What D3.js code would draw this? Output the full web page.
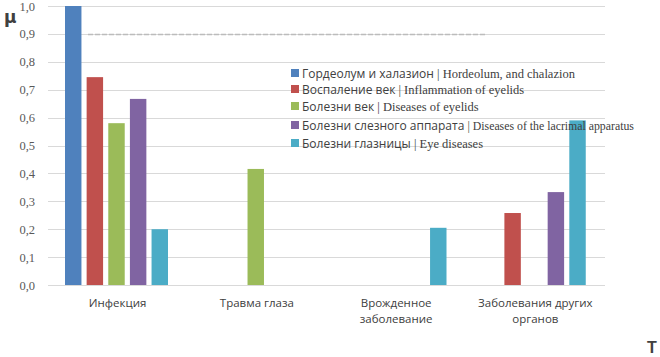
<!DOCTYPE html>
<html>
<head>
<meta charset="utf-8">
<script src="https://cdn.jsdelivr.net/npm/d3@7"></script>
<style>
  html, body { margin: 0; padding: 0; background: #fff; }
  svg { display: block; }
</style>
</head>
<body>
<div id="chart"></div>
<script>
// categories (x axis), split into lines
const categories = ["Инфекция", "Травма глаза", "Врожденное заболевание", "Заболевания других органов"];
const categoryLines = [["Инфекция"], ["Травма глаза"], ["Врожденное", "заболевание"], ["Заболевания других", "органов"]];

// series names: russian part + english part
const seriesRu = ["Гордеолум и халазион", "Воспаление век", "Болезни век", "Болезни слезного аппарата", "Болезни глазницы"];
const seriesEn = ["Hordeolum, and chalazion", "Inflammation of eyelids", "Diseases of eyelids", "Diseases of the lacrimal apparatus", "Eye diseases"];
const seriesColors = ["#4F81BD", "#C0504D", "#9BBB59", "#8064A2", "#4BACC6"];

// values per series, one per category (0 = no bar)
const hordeolum = [1.0, 0, 0, 0];
const inflammation = [0.745, 0, 0, 0.258];
const eyelids = [0.58, 0.416, 0, 0];
const lacrimal = [0.667, 0, 0, 0.333];
const orbit = [0.2, 0, 0.205, 0.59];
const seriesValues = [hordeolum, inflammation, eyelids, lacrimal, orbit];

const yTicks = [0, 0.1, 0.2, 0.3, 0.4, 0.5, 0.6, 0.7, 0.8, 0.9, 1.0];

const width = 660, height = 357;
const svg = d3.select("#chart").append("svg")
  .attr("width", width).attr("height", height);

// scales
const x0 = d3.scaleBand().domain(categories).range([48, 605]).padding(0);
const x1 = d3.scaleBand().domain(d3.range(seriesRu.length)).range([17, 120]).paddingInner(0.24).paddingOuter(0);
const y = d3.scaleLinear().domain([0, 1]).range([285, 6]);

// gridlines
svg.append("g")
  .selectAll("line")
  .data(yTicks)
  .join("line")
  .attr("x1", 48).attr("x2", 605)
  .attr("y1", d => Math.round(y(d)) + 0.5).attr("y2", d => Math.round(y(d)) + 0.5)
  .attr("stroke", "#d9d9d9").attr("stroke-width", 1);

// faint dashed artefact over the 0.9 gridline
svg.append("line")
  .attr("x1", 88).attr("x2", 487)
  .attr("y1", Math.round(y(0.9)) + 0.5).attr("y2", Math.round(y(0.9)) + 0.5)
  .attr("stroke", "#bcbcbc").attr("stroke-width", 1.3)
  .attr("stroke-dasharray", "5,2");

// y tick labels
svg.append("g")
  .selectAll("text")
  .data(yTicks)
  .join("text")
  .attr("x", 35)
  .attr("y", d => Math.max(y(d) + 4.5, 11))
  .attr("text-anchor", "end")
  .attr("font-family", "'Liberation Serif', serif")
  .attr("font-size", 12.5)
  .attr("fill", "#595959")
  .text(d => d3.format(".1f")(d).replace(".", ","));

// bars
const groups = svg.append("g")
  .selectAll("g")
  .data(seriesValues)
  .join("g")
  .attr("fill", (d, i) => seriesColors[i]);

groups.selectAll("rect")
  .data((vals, si) => vals.map((v, ci) => ({ v, ci, si })).filter(d => d.v > 0))
  .join("rect")
  .attr("x", d => x0(categories[d.ci]) + x1(d.si))
  .attr("width", x1.bandwidth())
  .attr("y", d => y(d.v))
  .attr("height", d => y(0) - y(d.v));

// category labels
const catG = svg.append("g")
  .selectAll("text")
  .data(categoryLines)
  .join("text")
  .attr("x", (d, i) => x0(categories[i]) + x0.bandwidth() / 2)
  .attr("y", 307)
  .attr("text-anchor", "middle")
  .attr("font-family", "'Open Sans', sans-serif")
  .attr("font-size", 11.5)
  .attr("fill", "#404040");
catG.selectAll("tspan")
  .data(d => d)
  .join("tspan")
  .attr("x", function () { return d3.select(this.parentNode).attr("x"); })
  .attr("dy", (d, i) => i === 0 ? 0 : 16)
  .text(d => d);

// legend
const legendRowsY = [73, 89, 106, 125, 143];
const legend = svg.append("g")
  .selectAll("g")
  .data(seriesRu)
  .join("g")
  .attr("transform", (d, i) => `translate(291,${legendRowsY[i]})`);
legend.append("rect")
  .attr("x", 0).attr("y", -4).attr("width", 8).attr("height", 8)
  .attr("fill", (d, i) => seriesColors[i]);
const lt = legend.append("text")
  .attr("x", 11).attr("y", 4.5)
  .attr("fill", "#404040");
lt.append("tspan")
  .attr("font-family", "'Open Sans', sans-serif")
  .attr("font-size", 12)
  .text(d => d + " ");
lt.append("tspan")
  .attr("font-family", "'Liberation Serif', serif")
  .attr("font-size", (d, i) => i === 3 ? 11.8 : 12.5)
  .text((d, i) => "| " + seriesEn[i]);

// axis symbols
svg.append("text")
  .attr("x", 4).attr("y", 23)
  .attr("font-family", "'DejaVu Sans', sans-serif")
  .attr("font-size", 17).attr("font-weight", "bold")
  .attr("fill", "#404040")
  .text("μ");
svg.append("text")
  .attr("x", 647).attr("y", 353)
  .attr("font-family", "'Liberation Sans', sans-serif")
  .attr("font-size", 16).attr("font-weight", "bold")
  .attr("fill", "#404040")
  .text("T");
</script>
</body>
</html>
